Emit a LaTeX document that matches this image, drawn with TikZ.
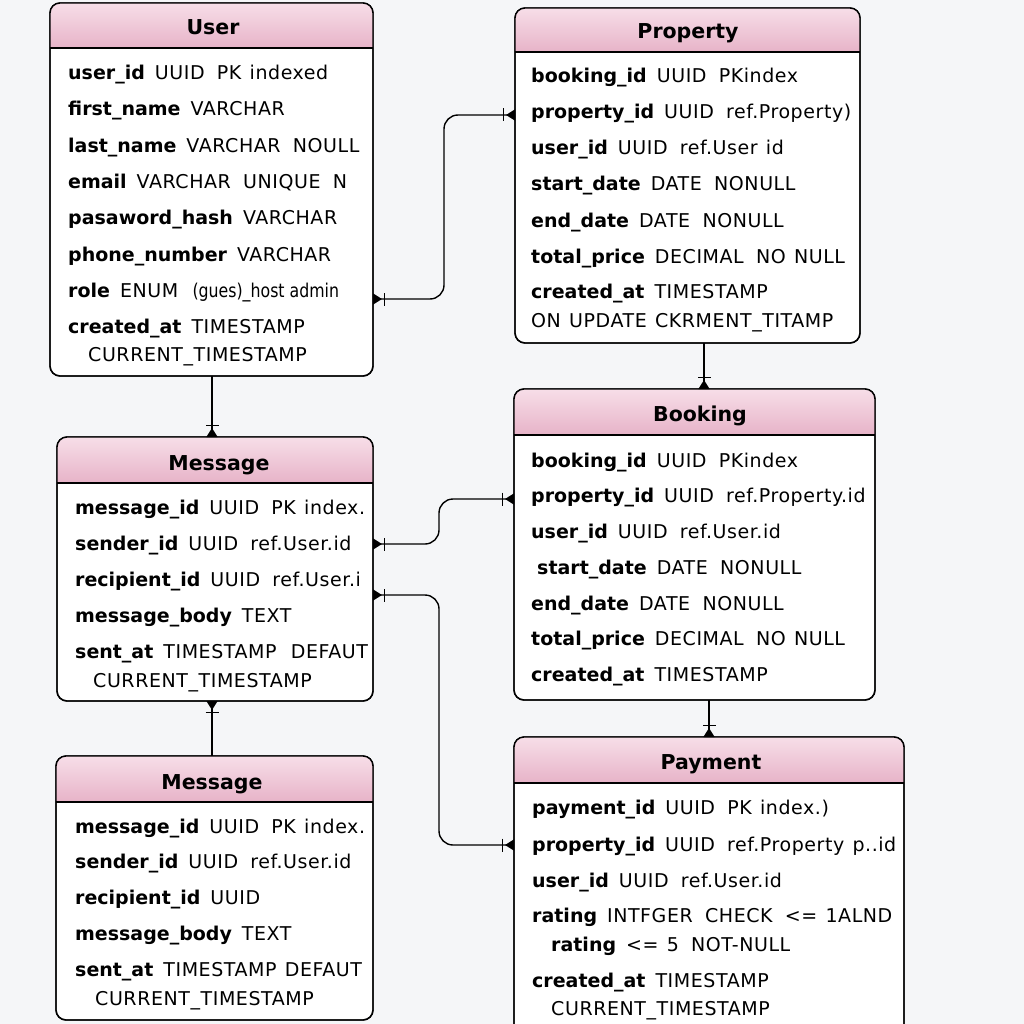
\documentclass[tikz,border=0pt]{standalone}
\usepackage{fontspec}
\setmainfont{DejaVu Sans}
\newfontfamily\regf{DejaVu Sans}[LetterSpace=3,WordSpace=1.25]
\newfontfamily\condf{DejaVu Sans}[FakeStretch=0.83]
\usetikzlibrary{arrows.meta,calc}
\definecolor{bg}{HTML}{F5F6F8}
\definecolor{htop}{HTML}{F7DEE8}
\definecolor{hbot}{HTML}{E7B3C8}
\tikzset{
  ent/.style={draw=black, line width=1.4pt, fill=white, rounded corners=10pt, inner sep=0pt, outer sep=0pt},
  ttl/.style={font=\fontsize{20.5}{26}\selectfont\bfseries, inner sep=0pt, anchor=base},
  fld/.style={font=\fontsize{19}{22}\selectfont, anchor=base west, inner sep=0pt},
  conn/.style={line width=1.4pt, rounded corners=14pt},
  mkend/.style={-{Bar[width=13pt,line width=1.4pt,sep=2pt]Triangle[reversed,length=9pt,width=11pt]}},
  mkstart/.style={{Triangle[reversed,length=9pt,width=11pt]Bar[width=13pt,line width=1.4pt,sep=2pt]}-},
  mkboth/.style={{Triangle[reversed,length=9pt,width=11pt]Bar[width=13pt,line width=1.4pt,sep=2pt]}-{Bar[width=13pt,line width=1.4pt,sep=2pt]Triangle[reversed,length=9pt,width=11pt]}},
}
\newcommand\erentity[7]{%
  \pgfmathsetmacro\ew{#4-#2}\pgfmathsetmacro\eh{#5-#3}%
  \node[ent, minimum width=\ew pt, minimum height=\eh pt] (#1) at ({(#2+#4)/2},{(#3+#5)/2}) {};
  \begin{scope}
    \clip[rounded corners=10pt] (#2,#3) rectangle (#4,#5);
    \shade[top color=htop, bottom color=hbot] (#2,#3) rectangle (#4,#6);
  \end{scope}
  \draw[line width=1.2pt] (#2,#6) -- (#4,#6);
  \draw[line width=1.4pt, rounded corners=10pt] (#1.north west) rectangle (#1.south east);
}
\newcommand\fl[5]{% name x y bold rest
  \node[fld] (#1) at (#2,#3+7) {\textbf{#4}\hspace{10pt}{\regf #5}};}
\newcommand\fp[4]{% name x y text
  \node[fld] (#1) at (#2,#3+7) {\regf #4};}
\begin{document}
\begin{tikzpicture}[x=1pt,y=-1pt]
\clip (0,0) rectangle (1024,1024);
\fill[bg] (0,0) rectangle (1024,1024);

% User
\erentity{user}{50}{3}{373}{376}{48}{User}
\node[ttl] (user-t) at (213,27+8) {User};
\fl{user-1}{68}{73}{user\_id}{UUID\hspace{4pt} PK indexed}
\fl{user-2}{68}{109}{first\_name}{VARCHAR}
\fl{user-3}{68}{146}{last\_name}{VARCHAR\hspace{4pt} NOULL}
\fl{user-4}{68}{182}{email}{VARCHAR\hspace{4pt} UNIQUE\hspace{4pt} N}
\fl{user-5}{68}{218}{pasaword\_hash}{VARCHAR}
\fl{user-6}{68}{254}{phone\_number}{VARCHAR}
\fl{user-7}{68}{290}{role}{ENUM\hspace{6pt} {\condf (gues)\_host admin}}
\fl{user-8}{68}{326}{created\_at}{TIMESTAMP}
\fp{user-9}{88}{354}{CURRENT\_TIMESTAMP}

% Property
\erentity{property}{515}{8}{860}{343}{52}{Property}
\node[ttl] (property-t) at (688,31+8) {Property};
\fl{property-1}{531}{76}{booking\_id}{UUID\hspace{4pt} PKindex}
\fl{property-2}{531}{112}{property\_id}{UUID\hspace{4pt} ref.Property)}
\fl{property-3}{531}{148}{user\_id}{UUID\hspace{4pt} ref.User id}
\fl{property-4}{531}{184}{start\_date}{DATE\hspace{4pt} NONULL}
\fl{property-5}{531}{220}{end\_date}{DATE\hspace{4pt} NONULL}
\fl{property-6}{531}{256}{total\_price}{DECIMAL\hspace{4pt} NO NULL}
\fl{property-7}{531}{291}{created\_at}{TIMESTAMP}
\fp{property-8}{531}{320}{ON UPDATE CKRMENT\_TITAMP}

% Message 1
\erentity{msg1}{57}{437}{373}{701}{483}{Message}
\node[ttl] (msg1-t) at (219,462+8) {Message};
\fl{msg1-1}{75}{507}{message\_id}{UUID\hspace{4pt} PK index.}
\fl{msg1-2}{75}{543}{sender\_id}{UUID\hspace{4pt} ref.User.id}
\fl{msg1-3}{75}{579}{recipient\_id}{UUID\hspace{4pt} ref.User.i}
\fl{msg1-4}{75}{615}{message\_body}{TEXT}
\fl{msg1-5}{75}{651}{sent\_at}{TIMESTAMP\hspace{6pt} DEFAUT}
\fp{msg1-6}{93}{680}{CURRENT\_TIMESTAMP}

% Booking
\erentity{booking}{514}{389}{875}{700}{435}{Booking}
\node[ttl] (booking-t) at (700,413+8) {Booking};
\fl{booking-1}{531}{460}{booking\_id}{UUID\hspace{4pt} PKindex}
\fl{booking-2}{531}{495}{property\_id}{UUID\hspace{4pt} ref.Property.id}
\fl{booking-3}{531}{531}{user\_id}{UUID\hspace{4pt} ref.User.id}
\fl{booking-4}{537}{567}{start\_date}{DATE\hspace{4pt} NONULL}
\fl{booking-5}{531}{603}{end\_date}{DATE\hspace{4pt} NONULL}
\fl{booking-6}{531}{638}{total\_price}{DECIMAL\hspace{4pt} NO NULL}
\fl{booking-7}{531}{674}{created\_at}{TIMESTAMP}

% Message 2
\erentity{msg2}{56}{756}{373}{1020}{802}{Message}
\node[ttl] (msg2-t) at (212,781+8) {Message};
\fl{msg2-1}{75}{826}{message\_id}{UUID\hspace{4pt} PK index.}
\fl{msg2-2}{75}{861}{sender\_id}{UUID\hspace{4pt} ref.User.id}
\fl{msg2-3}{75}{897}{recipient\_id}{UUID}
\fl{msg2-4}{75}{933}{message\_body}{TEXT}
\fl{msg2-5}{75}{969}{sent\_at}{TIMESTAMP DEFAUT}
\fp{msg2-6}{95}{998}{CURRENT\_TIMESTAMP}

% Payment
\erentity{payment}{514}{737}{904}{1040}{783}{Payment}
\node[ttl] (payment-t) at (711,761+8) {Payment};
\fl{payment-1}{532}{807}{payment\_id}{UUID\hspace{4pt} PK index.)}
\fl{payment-2}{532}{844}{property\_id}{UUID\hspace{4pt} ref.Property p..id}
\fl{payment-3}{532}{880}{user\_id}{UUID\hspace{4pt} ref.User.id}
\fl{payment-4}{532}{915}{rating}{INTFGER\hspace{4pt} CHECK\hspace{4pt} <= 1ALND}
\fl{payment-5}{551}{944}{rating}{<= 5\hspace{4pt} NOT-NULL}
\fl{payment-6}{532}{980}{created\_at}{TIMESTAMP}
\fp{payment-7}{551}{1008}{CURRENT\_TIMESTAMP}

% Connectors
\draw[conn, mkboth] (user.east |- 0,299) -- (444,299) -- (444,115) -- (property.west |- 0,115);
\draw[conn, mkend] (user.south -| 212,0) -- (msg1.north -| 212,0);
\draw[conn, mkend] (property.south -| 704,0) -- (booking.north -| 704,0);
\draw[conn, mkboth] (booking.west |- 0,499) -- (439,499) -- (439,544) -- (msg1.east |- 0,544);
\draw[conn, mkboth] (msg1.east |- 0,595) -- (439,595) -- (439,845) -- (payment.west |- 0,845);
\draw[conn, mkstart] (msg1.south -| 212,0) -- (msg2.north -| 212,0);
\draw[conn, mkend] (booking.south -| 709,0) -- (payment.north -| 709,0);
\end{tikzpicture}
\end{document}
